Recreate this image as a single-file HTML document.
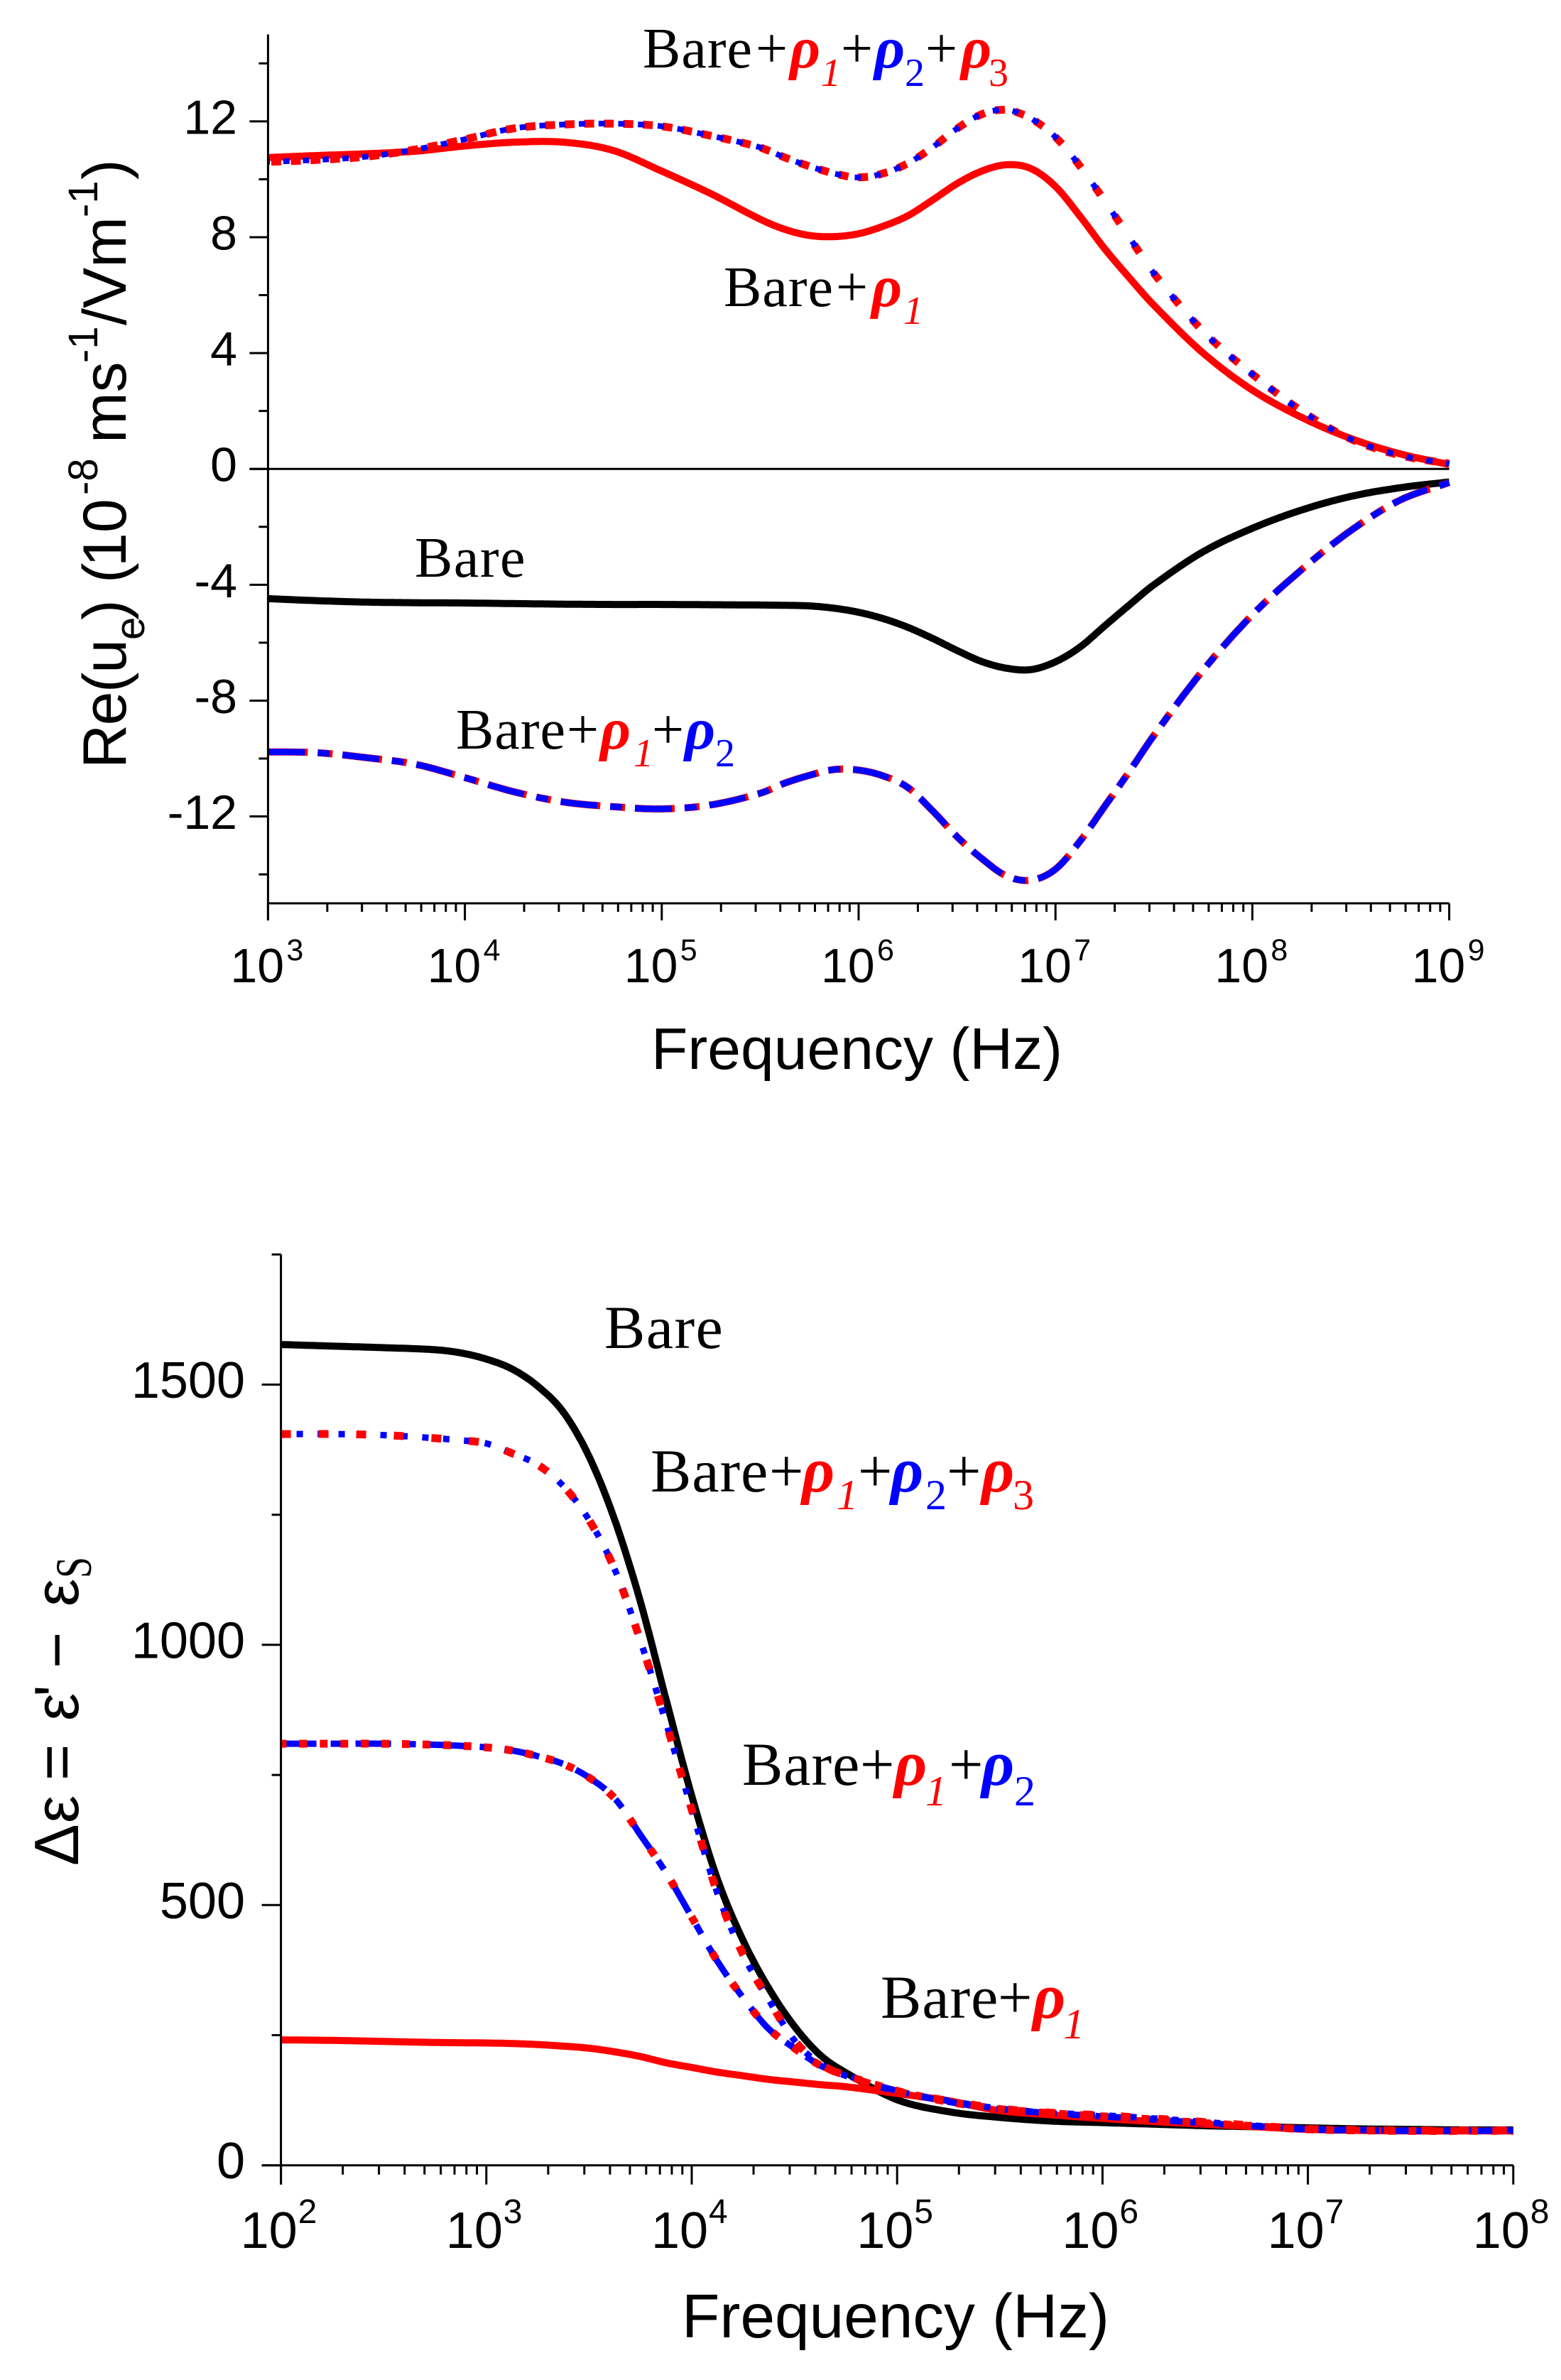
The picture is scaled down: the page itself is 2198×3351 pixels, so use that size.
<!DOCTYPE html>
<html lang="en">
<head>
<meta charset="utf-8">
<title>Re(ue) and dielectric increment versus frequency</title>
<style>
  html, body { margin: 0; padding: 0; background: #fff; }
  svg { display: block; }
  .tick-label, .axis-title { font-family: "Liberation Sans", Arial, sans-serif; fill: #000; }
  .note { font-family: "Liberation Serif", "Times New Roman", serif; fill: #000; }
  .rho { font-weight: bold; font-style: italic; }
  .r { fill: #ff0000; }
  .b { fill: #0000ff; }
  .it { font-style: italic; }
</style>
</head>
<body>
<svg id="figure" xmlns="http://www.w3.org/2000/svg" width="2198" height="3351" viewBox="0 0 2198 3351">
  <rect width="2198" height="3351" fill="#fff"/>
  <g id="top-chart"></g>
  <g id="bottom-chart"></g>

  <!-- top chart axis titles -->
  <text class="axis-title" x="917" y="1505" font-size="83" textLength="579" lengthAdjust="spacingAndGlyphs">Frequency (Hz)</text>
  <text class="axis-title" transform="translate(177,1082) rotate(-90)" font-size="86"><tspan x="0" y="0" style="letter-spacing:-1.5px">Re(u</tspan><tspan x="181" y="26" font-size="58">e</tspan><tspan x="209" y="0">)</tspan><tspan x="261" y="0">(</tspan><tspan x="284" y="0">10</tspan><tspan x="385" y="-40" font-size="58">-8</tspan><tspan x="458" y="0">ms</tspan><tspan x="571" y="-40" font-size="58">-1</tspan><tspan x="624" y="0">/Vm</tspan><tspan x="776" y="-40" font-size="58">-1</tspan><tspan x="829" y="0">)</tspan></text>

  <!-- top chart annotations -->
  <text class="note" font-size="80" letter-spacing="1"><tspan x="905" y="95">Bare</tspan><tspan x="1064" y="95">+</tspan><tspan class="rho r" x="1112" y="95" font-size="84">ρ</tspan><tspan class="r it" x="1156" y="121" font-size="56">1</tspan><tspan x="1184" y="95">+</tspan><tspan class="rho b" x="1231" y="95" font-size="84">ρ</tspan><tspan class="b" x="1274" y="121" font-size="56">2</tspan><tspan x="1303" y="95">+</tspan><tspan class="rho r" x="1353" y="95" font-size="84">ρ</tspan><tspan class="r" x="1392" y="121" font-size="56">3</tspan></text>
  <text class="note" font-size="80" letter-spacing="1"><tspan x="1019" y="431">Bare</tspan><tspan x="1177" y="431">+</tspan><tspan class="rho r" x="1227" y="431" font-size="84">ρ</tspan><tspan class="r it" x="1272" y="456" font-size="56">1</tspan></text>
  <text class="note" font-size="80" letter-spacing="1.5" x="584" y="812">Bare</text>
  <text class="note" font-size="80" letter-spacing="1"><tspan x="642" y="1054">Bare</tspan><tspan x="798" y="1054">+</tspan><tspan class="rho r" x="845" y="1054" font-size="84">ρ</tspan><tspan class="r it" x="892" y="1079" font-size="56">1</tspan><tspan x="918" y="1054">+</tspan><tspan class="rho b" x="964" y="1054" font-size="84">ρ</tspan><tspan class="b" x="1007" y="1079" font-size="56">2</tspan></text>

  <!-- bottom chart axis titles -->
  <text class="axis-title" x="960" y="3291" font-size="87" textLength="602" lengthAdjust="spacingAndGlyphs">Frequency (Hz)</text>
  <text class="axis-title" transform="translate(110,2627) rotate(-90)" font-size="88"><tspan x="0" y="0">Δ</tspan><tspan x="60" y="0">ε</tspan><tspan x="120" y="0">=</tspan><tspan x="204" y="0">ε</tspan><tspan x="238" y="0">'</tspan><tspan x="278" y="0">−</tspan><tspan x="365" y="0">ε</tspan></text>
  <text class="note" transform="translate(128,2222) rotate(-90)" font-size="72" textLength="30" lengthAdjust="spacingAndGlyphs">S</text>

  <!-- bottom chart annotations -->
  <text class="note" font-size="86" letter-spacing="1.5" x="851" y="1898">Bare</text>
  <text class="note" font-size="86" letter-spacing="1"><tspan x="916" y="2100">Bare</tspan><tspan x="1083" y="2100">+</tspan><tspan class="rho r" x="1129" y="2100" font-size="90">ρ</tspan><tspan class="r it" x="1178" y="2125" font-size="60">1</tspan><tspan x="1208" y="2100">+</tspan><tspan class="rho b" x="1254" y="2100" font-size="90">ρ</tspan><tspan class="b" x="1303" y="2125" font-size="60">2</tspan><tspan x="1333" y="2100">+</tspan><tspan class="rho r" x="1382" y="2100" font-size="90">ρ</tspan><tspan class="r" x="1426" y="2125" font-size="60">3</tspan></text>
  <text class="note" font-size="86" letter-spacing="1"><tspan x="1045" y="2513">Bare</tspan><tspan x="1211" y="2513">+</tspan><tspan class="rho r" x="1259" y="2513" font-size="90">ρ</tspan><tspan class="r it" x="1303" y="2542" font-size="60">1</tspan><tspan x="1336" y="2513">+</tspan><tspan class="rho b" x="1382" y="2513" font-size="90">ρ</tspan><tspan class="b" x="1428" y="2542" font-size="60">2</tspan></text>
  <text class="note" font-size="86" letter-spacing="1"><tspan x="1240" y="2841">Bare</tspan><tspan x="1405" y="2841">+</tspan><tspan class="rho r" x="1454" y="2841" font-size="90">ρ</tspan><tspan class="r it" x="1497" y="2870" font-size="60">1</tspan></text>
</svg>

<script>
/* ---------- top chart data ---------- */
const topFreqExp = [3, 3.25, 3.5, 3.75, 4, 4.25, 4.5, 4.75, 5, 5.25, 5.5, 5.625, 5.75, 5.875, 6, 6.125, 6.25, 6.375, 6.5, 6.625, 6.75, 6.875, 7, 7.125, 7.25, 7.375, 7.5, 7.75, 8, 8.25, 8.5, 8.75, 9];
const topBare = [-4.48, -4.55, -4.6, -4.62, -4.63, -4.65, -4.67, -4.68, -4.68, -4.69, -4.7, -4.71, -4.73, -4.81, -4.95, -5.17, -5.47, -5.85, -6.27, -6.65, -6.88, -6.93, -6.66, -6.15, -5.42, -4.7, -4.0, -2.86, -2.05, -1.42, -0.95, -0.65, -0.45];
const topRho1 = [10.75, 10.82, 10.88, 10.97, 11.15, 11.28, 11.28, 11.0, 10.28, 9.5, 8.62, 8.27, 8.06, 8.02, 8.12, 8.38, 8.74, 9.28, 9.85, 10.28, 10.5, 10.37, 9.75, 8.72, 7.6, 6.6, 5.65, 4.0, 2.72, 1.78, 1.05, 0.52, 0.15];
const topRho12 = [-9.77, -9.8, -9.97, -10.2, -10.66, -11.15, -11.5, -11.66, -11.74, -11.6, -11.2, -10.85, -10.58, -10.38, -10.4, -10.6, -11.0, -11.8, -12.7, -13.45, -14.05, -14.2, -13.82, -12.85, -11.65, -10.45, -9.2, -6.95, -5.04, -3.48, -2.13, -1.08, -0.47];
const topRho123 = [10.6, 10.67, 10.78, 11.03, 11.38, 11.76, 11.89, 11.92, 11.83, 11.5, 11.1, 10.75, 10.45, 10.2, 10.06, 10.2, 10.55, 11.1, 11.75, 12.25, 12.4, 12.1, 11.46, 10.45, 9.25, 8.0, 6.75, 4.75, 3.27, 2.0, 1.03, 0.47, 0.18];
const topXTicks = [3, 4, 5, 6, 7, 8, 9];
const topYMajor = [-12, -8, -4, 0, 4, 8, 12];
const topYMinor = [-14, -10, -6, -2, 2, 6, 10, 14];

/* ---------- bottom chart data ---------- */
const botFreqExp = [2, 2.25, 2.5, 2.75, 2.875, 3, 3.125, 3.25, 3.375, 3.5, 3.625, 3.75, 3.875, 4, 4.125, 4.25, 4.375, 4.5, 4.625, 4.75, 5, 5.25, 5.5, 5.75, 6, 6.25, 6.5, 6.75, 7, 7.25, 7.5, 7.75, 8];
const botBare = [1577, 1574, 1571, 1567, 1561, 1549, 1530, 1497, 1447, 1362, 1240, 1083, 895, 710, 550, 432, 340, 267, 212, 178, 126, 103, 92, 85, 82, 79, 76, 74, 72, 70, 69, 68, 68];
const botRho1 = [241, 240, 238, 236, 235.5, 235, 234, 232, 229, 225, 218, 209, 197, 188, 179, 172, 165, 160, 155, 151, 138, 124, 105, 97, 90, 84, 79, 74, 69, 67, 66, 66, 66];
const botRho12 = [810, 810, 810, 808, 806, 803, 797, 786, 771, 745, 705, 635, 562, 477, 392, 322, 262, 225, 192, 173, 143, 122, 108, 100, 94, 88, 81, 75, 69, 67, 66, 66, 66];
const botRho123 = [1405, 1405, 1403, 1397, 1393, 1387, 1368, 1346, 1305, 1240, 1145, 1008, 850, 683, 523, 405, 318, 240, 195, 172, 142, 124, 109, 101, 96, 90, 83, 76, 70, 68, 67, 67, 67];
const botXTicks = [2, 3, 4, 5, 6, 7, 8];
const botYMajor = [0, 500, 1000, 1500];
const botYMinor = [250, 750, 1250, 1750];

/* ---------- axis functions ---------- */
const topX = e => 377.4 + (e - 3) * 277.2;
const topY = v => 660.2 - v * 40.78;
const botX = e => 395.6 + (e - 2) * 289.2;
const botY = v => 3048.7 - v * 0.7328;

const NS = 'http://www.w3.org/2000/svg';
function make(parent, tag, attrs, text) {
  const el = document.createElementNS(NS, tag);
  for (const k in attrs) el.setAttribute(k, attrs[k]);
  if (text !== undefined) el.textContent = text;
  parent.appendChild(el);
  return el;
}

/* Hermite curve through the read values, returned as pixel samples. */
function samples(exps, vals, xf, yf) {
  const n = exps.length, m = [];
  for (let i = 0; i < n; i++) {
    const a = Math.max(0, i - 1), b = Math.min(n - 1, i + 1);
    m.push((vals[b] - vals[a]) / (exps[b] - exps[a]));
  }
  const pts = [];
  for (let i = 0; i < n - 1; i++) {
    const h = exps[i + 1] - exps[i];
    const steps = 24;
    for (let s = 0; s < steps; s++) {
      const t = s / steps, t2 = t * t, t3 = t2 * t;
      const v = (2*t3 - 3*t2 + 1) * vals[i] + (t3 - 2*t2 + t) * h * m[i] + (-2*t3 + 3*t2) * vals[i+1] + (t3 - t2) * h * m[i+1];
      pts.push([xf(exps[i] + t * h), yf(v)]);
    }
  }
  pts.push([xf(exps[n-1]), yf(vals[n-1])]);
  return pts;
}
const toPath = pts => 'M' + pts.map(p => p[0].toFixed(1) + ' ' + p[1].toFixed(1)).join('L');

/* Dashes of constant length along the curve, repeated at a constant horizontal period. */
function xDashPath(pts, start, period, len) {
  let d = '';
  const xEnd = pts[pts.length - 1][0], x0 = pts[0][0];
  const at = x => {
    for (let i = 0; i < pts.length - 1; i++) {
      if (x <= pts[i + 1][0]) {
        const f = (x - pts[i][0]) / (pts[i + 1][0] - pts[i][0]);
        return pts[i][1] + f * (pts[i + 1][1] - pts[i][1]);
      }
    }
    return pts[pts.length - 1][1];
  };
  for (let c = start; c < xEnd + len; c += period) {
    const s = (at(c + 1) - at(c - 1)) / 2;
    const half = (len / 2) / Math.sqrt(1 + s * s);
    const a = Math.max(x0, c - half), b = Math.min(xEnd, c + half);
    if (b <= a) continue;
    d += 'M' + a.toFixed(1) + ' ' + at(a).toFixed(1) + 'L' + b.toFixed(1) + ' ' + at(b).toFixed(1);
  }
  return d;
}

/* ---------- top chart drawing ---------- */
const topG = document.getElementById('top-chart');

const topBareLine = make(topG, 'path', { d: toPath(samples(topFreqExp, topBare, topX, topY)), fill: 'none', stroke: '#000', 'stroke-width': 10 });



const topRho1Line = make(topG, 'path', { d: toPath(samples(topFreqExp, topRho1, topX, topY)), fill: 'none', stroke: '#f00', 'stroke-width': 10 });



const topPts12 = samples(topFreqExp, topRho12, topX, topY);
const topRho12Red = make(topG, 'path', { d: toPath(topPts12), fill: 'none', stroke: '#f00', 'stroke-width': 10, 'stroke-dasharray': '56 14 21 14' });


const topRho12Blue = make(topG, 'path', { d: toPath(topPts12), fill: 'none', stroke: '#00f', 'stroke-width': 9, 'stroke-dasharray': '52 18 17 18' });



const topPts123 = samples(topFreqExp, topRho123, topX, topY);
const topRho123Red = make(topG, 'path', { d: xDashPath(topPts123, 389, 27.54, 14), fill: 'none', stroke: '#f00', 'stroke-width': 11 });


const topRho123Blue = make(topG, 'path', { d: xDashPath(topPts123, 375.5, 27.75, 9), fill: 'none', stroke: '#00f', 'stroke-width': 8 });



const topAxes = make(topG, 'path', { fill: 'none', stroke: '#000', 'stroke-width': 3,
  d: 'M' + topX(3) + ' ' + topY(15) + 'L' + topX(3) + ' ' + (topY(-15) + 24) +
     'M' + topX(3) + ' ' + topY(-15) + 'L' + topX(9) + ' ' + topY(-15) +
     'M' + (topX(3) - 26) + ' ' + topY(0) + 'L' + topX(9) + ' ' + topY(0) });



let topTicks = '';
topYMajor.forEach(v => { topTicks += 'M' + (topX(3) - 26) + ' ' + topY(v) + 'H' + topX(3); });
topYMinor.forEach(v => { topTicks += 'M' + (topX(3) - 13) + ' ' + topY(v) + 'H' + topX(3); });
topXTicks.forEach((e, i) => {
  topTicks += 'M' + topX(e) + ' ' + topY(-15) + 'v24';
  if (i < topXTicks.length - 1) for (let k = 2; k < 10; k++) topTicks += 'M' + topX(e + Math.log10(k)) + ' ' + topY(-15) + 'v12';
});
const topTickPath = make(topG, 'path', { d: topTicks, stroke: '#000', 'stroke-width': 3, fill: 'none' });



topYMajor.forEach(v => {
  const t = make(topG, 'text', { class: 'tick-label', x: 334, y: topY(v) + 17.5, 'font-size': 68, 'text-anchor': 'end' }, String(v));
  
  
});
topXTicks.forEach(e => {
  const t = make(topG, 'text', { class: 'tick-label', x: topX(e) - 53, y: 1383, 'font-size': 68 }, '10');
  
  
  const s = make(topG, 'text', { class: 'tick-label', x: topX(e) + 26, y: 1352, 'font-size': 43 }, String(e));
  
  
});

/* ---------- bottom chart drawing ---------- */
const botG = document.getElementById('bottom-chart');

const botBareLine = make(botG, 'path', { d: toPath(samples(botFreqExp, botBare, botX, botY)), fill: 'none', stroke: '#000', 'stroke-width': 10 });



const botRho1Line = make(botG, 'path', { d: toPath(samples(botFreqExp, botRho1, botX, botY)), fill: 'none', stroke: '#f00', 'stroke-width': 10 });



const botPts12 = samples(botFreqExp, botRho12, botX, botY);
const botRho12Blue = make(botG, 'path', { d: toPath(botPts12), fill: 'none', stroke: '#00f', 'stroke-width': 9, 'stroke-dasharray': '50 20 15 20' });


const botRho12Red = make(botG, 'path', { d: xDashPath(botPts12, 398, 28.92, 11), fill: 'none', stroke: '#f00', 'stroke-width': 11 });



const botPts123 = samples(botFreqExp, botRho123, botX, botY);
const botRho123Blue = make(botG, 'path', { d: toPath(botPts123), fill: 'none', stroke: '#00f', 'stroke-width': 9, 'stroke-dasharray': '9 20.5', 'stroke-dashoffset': -22 });


const botRho123Red = make(botG, 'path', { d: toPath(botPts123), fill: 'none', stroke: '#f00', 'stroke-width': 11, 'stroke-dasharray': '14 39' });



const botAxes = make(botG, 'path', { fill: 'none', stroke: '#000', 'stroke-width': 3,
  d: 'M' + botX(2) + ' ' + botY(1750) + 'L' + botX(2) + ' ' + (botY(0) + 27) +
     'M' + (botX(2) - 27) + ' ' + botY(0) + 'L' + botX(8) + ' ' + botY(0) });



let botTicks = '';
botYMajor.forEach(v => { botTicks += 'M' + (botX(2) - 27) + ' ' + botY(v) + 'H' + botX(2); });
botYMinor.forEach(v => { botTicks += 'M' + (botX(2) - 13) + ' ' + botY(v) + 'H' + botX(2); });
botXTicks.forEach((e, i) => {
  botTicks += 'M' + botX(e) + ' ' + botY(0) + 'v27';
  if (i < botXTicks.length - 1) for (let k = 2; k < 10; k++) botTicks += 'M' + botX(e + Math.log10(k)) + ' ' + botY(0) + 'v13';
});
const botTickPath = make(botG, 'path', { d: botTicks, stroke: '#000', 'stroke-width': 3, fill: 'none' });



botYMajor.forEach(v => {
  const t = make(botG, 'text', { class: 'tick-label', x: 345, y: botY(v) + 18.5, 'font-size': 72, 'text-anchor': 'end' }, String(v));
  
  
});
botXTicks.forEach(e => {
  const t = make(botG, 'text', { class: 'tick-label', x: botX(e) - 57, y: 3165, 'font-size': 72 }, '10');
  
  
  const s = make(botG, 'text', { class: 'tick-label', x: botX(e) + 24, y: 3130, 'font-size': 48 }, String(e));
  
  
});
</script>
</body>
</html>
